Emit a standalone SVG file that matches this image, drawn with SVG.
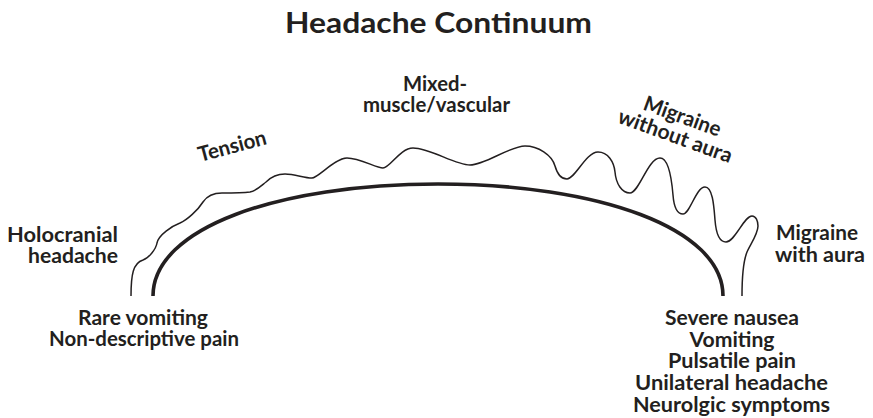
<svg xmlns="http://www.w3.org/2000/svg" width="873" height="418" viewBox="0 0 873 418">
<style>
text{font-family:Lato,"Open Sans","Liberation Sans",sans-serif;font-weight:700;fill:#231f20;font-size:21px}
.title{font-size:29px}
.mid{text-anchor:middle}
.end{text-anchor:end}
.thick{fill:none;stroke:#231f20;stroke-width:3.6;stroke-linecap:butt}
.wavy{fill:none;stroke:#231f20;stroke-width:1.5;stroke-linejoin:round}
</style>
<rect width="873" height="418" fill="#fff"/>
<g id="title"><text class="title mid" x="438.5" y="33" textLength="307" lengthAdjust="spacingAndGlyphs">Headache Continuum</text></g>
<g id="connectors">
<path class="thick" d="M153,296 C153,228 278,184 438,184 C598,184 723,228 723,296"/>
<path class="wavy" d="M131,296 C131,275 133,263 143,260 C149,258 156,249 157,243 C158.6,235 172,226 180,223 C187,220 198,210 203,202 C207,196 214,193 222,193 C232,193 242,193 250,192 C256,191 261,186 266,182 C271,177 278,174 285,174 C295,174 304,178 312,178 C318,178 335,158 347,158 C360,158 376,168 383,168 C390,168 400,148 413,148 C430,148 455,165 470,165 C485,165 510,146 525,146 C538,146 552,155 555,166 C557,173 561,179 567,179 C575,179 586,152 598,152 C608,152 614,162 615,172 C616,184 622,193 630,193 C639,193 648,158 660,158 C669,158 672,183 673,195 C674,208 678,214 683,214 C690,214 696,187 705,187 C713,187 714,208 715,220 C716,233 719,242 726,242 C735,242 744,216 752,216 C756,216 758,221 758,226 C758,234 750,245 747,252 C743,262 742,280 742,296"/>
</g>
<g id="holocranial"><text class="end" x="118" y="242" textLength="111" lengthAdjust="spacingAndGlyphs">Holocranial</text><text class="end" x="118" y="263" textLength="90" lengthAdjust="spacingAndGlyphs">headache</text></g>
<g id="tension"><text class="mid" transform="translate(234,153) rotate(-15)" x="0" y="0" textLength="70" lengthAdjust="spacingAndGlyphs">Tension</text></g>
<g id="mixed"><text class="mid" x="435" y="91" textLength="64" lengthAdjust="spacingAndGlyphs">Mixed-</text><text class="mid" x="436.5" y="112" textLength="147" lengthAdjust="spacingAndGlyphs">muscle/vascular</text></g>
<g id="migraine-without-aura" transform="translate(680,123) rotate(20)"><text class="mid" x="0" y="0" textLength="81" lengthAdjust="spacingAndGlyphs">Migraine</text><text class="mid" x="0" y="21" textLength="120" lengthAdjust="spacingAndGlyphs">without aura</text></g>
<g id="migraine-with-aura"><text x="776" y="240" textLength="82" lengthAdjust="spacingAndGlyphs">Migraine</text><text x="775" y="262" textLength="90" lengthAdjust="spacingAndGlyphs">with aura</text></g>
<g id="left-symptoms"><text class="mid" x="143" y="325" textLength="130" lengthAdjust="spacingAndGlyphs">Rare vomiting</text><text class="mid" x="144" y="346" textLength="190" lengthAdjust="spacingAndGlyphs">Non-descriptive pain</text></g>
<g id="right-symptoms"><text class="mid" x="732" y="325" textLength="134" lengthAdjust="spacingAndGlyphs">Severe nausea</text><text class="mid" x="732" y="347" textLength="85" lengthAdjust="spacingAndGlyphs">Vomiting</text><text class="mid" x="732" y="368" textLength="128" lengthAdjust="spacingAndGlyphs">Pulsatile pain</text><text class="mid" x="731.5" y="390" textLength="193" lengthAdjust="spacingAndGlyphs">Unilateral headache</text><text class="mid" x="731.5" y="412" textLength="197" lengthAdjust="spacingAndGlyphs">Neurolgic symptoms</text></g>
</svg>
